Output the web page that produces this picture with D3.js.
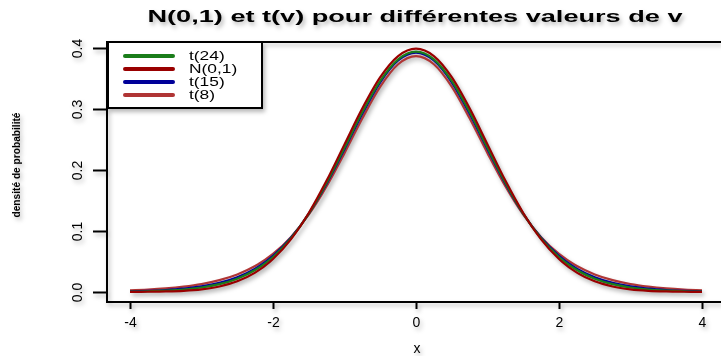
<!DOCTYPE html>
<html>
<head>
<meta charset="utf-8">
<script src="https://cdn.jsdelivr.net/npm/d3@7"></script>
<style>
body { margin:0; background:#fff; }
svg { display:block; font-family:"Liberation Sans", Arial, sans-serif; }
.shadow { filter: drop-shadow(2px 3px 2px rgba(0,0,0,0.28)); }
</style>
</head>
<body>
<div id="chart"></div>
<script>
// x grid
var xs = [-4,-3.75,-3.5,-3.25,-3,-2.75,-2.5,-2.25,-2,-1.75,-1.5,-1.25,-1,-0.75,-0.5,-0.25,0,
          0.25,0.5,0.75,1,1.25,1.5,1.75,2,2.25,2.5,2.75,3,3.25,3.5,3.75,4];
var normVals = [0.0001,0.0004,0.0009,0.0020,0.0044,0.0091,0.0175,0.0317,0.0540,0.0863,0.1295,0.1826,0.2420,0.3011,0.3521,0.3867,0.3989,
                0.3867,0.3521,0.3011,0.2420,0.1826,0.1295,0.0863,0.0540,0.0317,0.0175,0.0091,0.0044,0.0020,0.0009,0.0004,0.0001];
var t24Vals = [0.0007,0.0012,0.0023,0.0041,0.0074,0.0128,0.0218,0.0360,0.0574,0.0878,0.1285,0.1791,0.2365,0.2950,0.3461,0.3814,0.3940,
               0.3814,0.3461,0.2950,0.2365,0.1791,0.1285,0.0878,0.0574,0.0360,0.0218,0.0128,0.0074,0.0041,0.0023,0.0012,0.0007];
var t15Vals = [0.0012,0.0020,0.0033,0.0055,0.0091,0.0150,0.0242,0.0383,0.0592,0.0888,0.1283,0.1776,0.2342,0.2923,0.3438,0.3796,0.3924,
               0.3796,0.3438,0.2923,0.2342,0.1776,0.1283,0.0888,0.0592,0.0383,0.0242,0.0150,0.0091,0.0055,0.0033,0.0020,0.0012];
var t8Vals = [0.0028,0.0040,0.0059,0.0088,0.0130,0.0194,0.0288,0.0426,0.0624,0.0899,0.1268,0.1733,0.2276,0.2848,0.3367,0.3734,0.3867,
              0.3734,0.3367,0.2848,0.2276,0.1733,0.1268,0.0899,0.0624,0.0426,0.0288,0.0194,0.0130,0.0088,0.0059,0.0040,0.0028];

var legendLabels = ["t(24)", "N(0,1)", "t(15)", "t(8)"];
var legendColors = ["#1a7d1a", "#990000", "#000099", "#b03535"];
var xTicks = [-4,-2,0,2,4];
var yTicks = [0,0.1,0.2,0.3,0.4];

var width = 721, height = 356;
var svg = d3.select("#chart").append("svg")
  .attr("width", width).attr("height", height);

var x = d3.scaleLinear().domain([-4,4]).range([130,702]);
var y = d3.scaleLinear().domain([0,0.4]).range([292,48]);

var g = svg.append("g").attr("class", "shadow");

// box (right side is cut by the picture)
g.append("path")
  .attr("d", "M721,42 H107 V302 H721")
  .attr("fill", "none").attr("stroke", "#000").attr("stroke-width", 2);

// x axis
var xa = g.append("g").attr("transform", "translate(0,302)")
  .call(d3.axisBottom(x).tickValues(xTicks).tickSize(7).tickFormat(function(d){ return String(d); }));
xa.select(".domain").remove();
xa.selectAll("line").attr("stroke-width", 2);
xa.selectAll("text").attr("font-size", 14).attr("dy", "1.1em").style("font-family", "Liberation Sans, Arial");

// y axis, labels turned
var ya = g.append("g").attr("transform", "translate(107,0)")
  .call(d3.axisLeft(y).tickValues(yTicks).tickSize(14).tickFormat(d3.format(".1f")));
ya.select(".domain").remove();
ya.selectAll("line").attr("stroke-width", 2);
ya.selectAll("text")
  .attr("font-size", 14)
  .attr("x", null).attr("dy", null)
  .attr("text-anchor", "middle")
  .attr("transform", "translate(-30,0) rotate(-90) translate(0,5)")
  .style("font-family", "Liberation Sans, Arial");

// curves
var line = d3.line()
  .x(function(d, i){ return x(xs[i]); })
  .y(function(d){ return y(d); })
  .curve(d3.curveMonotoneX);

var series = [
  {vals: t8Vals, color: legendColors[3]},
  {vals: t15Vals, color: legendColors[2]},
  {vals: t24Vals, color: legendColors[0]},
  {vals: normVals, color: legendColors[1]}
];
g.selectAll(".curve")
  .data(series)
  .enter().append("path")
  .attr("class", "curve")
  .attr("d", function(d){ return line(d.vals); })
  .attr("fill", "none")
  .attr("stroke", function(d){ return d.color; })
  .attr("stroke-width", 2.2);

// legend
var lg = g.append("g");
lg.append("rect")
  .attr("x", 108).attr("y", 42).attr("width", 154).attr("height", 66)
  .attr("fill", "#fff").attr("stroke", "#000").attr("stroke-width", 2);
var items = lg.selectAll(".item")
  .data(legendLabels)
  .enter().append("g")
  .attr("class", "item")
  .attr("transform", function(d, i){ return "translate(0," + (56 + i * 13) + ")"; });
items.append("line")
  .attr("x1", 125).attr("x2", 173)
  .attr("stroke", function(d, i){ return legendColors[i]; })
  .attr("stroke-width", 4).attr("stroke-linecap", "round");
items.append("text")
  .attr("transform", "translate(189,0) scale(1.45,1)")
  .attr("dy", "0.36em")
  .attr("font-size", 12)
  .text(function(d){ return d; });

// title and axis titles
g.append("text")
  .attr("x", 415).attr("y", 22)
  .attr("text-anchor", "middle")
  .attr("font-size", 16).attr("font-weight", "bold")
  .attr("textLength", 535).attr("lengthAdjust", "spacingAndGlyphs")
  .text("N(0,1) et t(v) pour différentes valeurs de v");
g.append("text")
  .attr("x", 417).attr("y", 353)
  .attr("text-anchor", "middle")
  .attr("font-size", 14)
  .text("x");
g.append("text")
  .attr("transform", "translate(20,165) rotate(-90)")
  .attr("text-anchor", "middle")
  .attr("font-size", 10).attr("font-weight", "bold")
  .attr("textLength", 105).attr("lengthAdjust", "spacingAndGlyphs")
  .text("densité de probabilité");
</script>
</body>
</html>
